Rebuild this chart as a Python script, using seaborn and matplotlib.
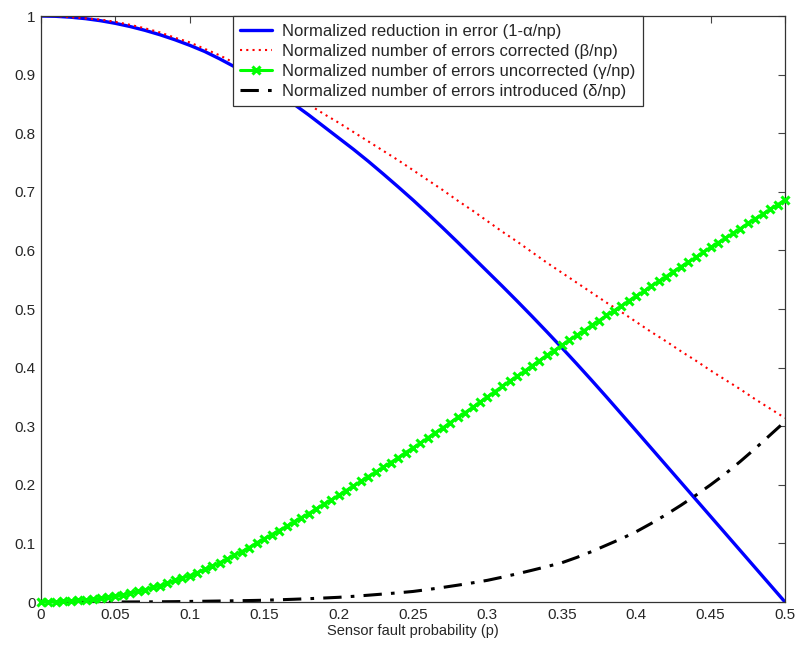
import numpy as np
import pandas as pd
import seaborn as sns
from matplotlib import pyplot as plt

# sensor fault probability, 0.01 steps for the plain lines
p_line = [round(0.01 * i, 2) for i in range(51)]

reduction = [1.000, 0.9995, 0.998, 0.9955, 0.992, 0.9875, 0.982, 0.9755, 0.968, 0.9595,
             0.950, 0.9395, 0.927, 0.9135, 0.899, 0.8835, 0.867, 0.8495, 0.831, 0.8115,
             0.792, 0.7725, 0.752, 0.7305, 0.7085, 0.686, 0.6625, 0.6385, 0.614, 0.589,
             0.564, 0.539, 0.5135, 0.4875, 0.461, 0.434, 0.4065, 0.3785, 0.350, 0.321,
             0.292, 0.2628, 0.2336, 0.2044, 0.1752, 0.146, 0.1168, 0.0876, 0.0584, 0.0292,
             0.000]

corrected = [1.000, 1.000, 0.998, 0.996, 0.994, 0.990, 0.985, 0.979, 0.972, 0.963,
             0.955, 0.944, 0.933, 0.920, 0.907, 0.892, 0.878, 0.863, 0.849, 0.833,
             0.818, 0.802, 0.786, 0.770, 0.754, 0.737, 0.720, 0.703, 0.685, 0.668,
             0.650, 0.632, 0.615, 0.597, 0.579, 0.562, 0.545, 0.528, 0.511, 0.495,
             0.478, 0.461, 0.445, 0.428, 0.412, 0.395, 0.379, 0.363, 0.346, 0.330,
             0.314]

introduced = [0.000, 0.000, 0.000, 0.000, 0.000, 0.0001, 0.0001, 0.0002, 0.0004, 0.0006,
              0.0010, 0.0013, 0.0017, 0.0021, 0.0025, 0.0030, 0.0038, 0.0047, 0.0057, 0.0068,
              0.0080, 0.0097, 0.0116, 0.0136, 0.0157, 0.0180, 0.0213, 0.0249, 0.0287, 0.0327,
              0.0370, 0.0424, 0.0481, 0.0542, 0.0605, 0.0670, 0.076, 0.086, 0.097, 0.108,
              0.120, 0.134, 0.149, 0.165, 0.182, 0.200, 0.219, 0.240, 0.262, 0.285,
              0.308]

# green curve is drawn with a marker every 0.005
p_mark = [round(0.005 * i, 3) for i in range(101)]

uncorrected = [0.000, 0.000, 0.000, 0.001, 0.002, 0.003, 0.004, 0.005, 0.006, 0.008,
               0.010, 0.012, 0.015, 0.018, 0.021, 0.025, 0.028, 0.032, 0.037, 0.041,
               0.045, 0.050, 0.056, 0.061, 0.067, 0.073, 0.080, 0.086, 0.093, 0.101,
               0.108, 0.115, 0.122, 0.129, 0.137, 0.144, 0.151, 0.159, 0.167, 0.174,
               0.182, 0.190, 0.198, 0.206, 0.214, 0.222, 0.230, 0.238, 0.246, 0.255,
               0.263, 0.271, 0.280, 0.289, 0.297, 0.306, 0.315, 0.323, 0.332, 0.341,
               0.350, 0.359, 0.368, 0.377, 0.385, 0.394, 0.403, 0.412, 0.421, 0.429,
               0.438, 0.447, 0.455, 0.463, 0.472, 0.480, 0.489, 0.497, 0.505, 0.514,
               0.522, 0.530, 0.539, 0.547, 0.555, 0.564, 0.572, 0.580, 0.588, 0.597,
               0.605, 0.613, 0.621, 0.629, 0.637, 0.646, 0.654, 0.662, 0.670, 0.678,
               0.686]

labels = ["Normalized reduction in error (1-\u03b1/np)",
          "Normalized number of errors corrected (\u03b2/np)",
          "Normalized number of errors uncorrected (\u03b3/np)",
          "Normalized number of errors introduced (\u03b4/np)"]

x_ticks = [0, 0.05, 0.1, 0.15, 0.2, 0.25, 0.3, 0.35, 0.4, 0.45, 0.5]
x_tick_labels = ["0", "0.05", "0.1", "0.15", "0.2", "0.25", "0.3", "0.35", "0.4", "0.45", "0.5"]
y_ticks = [0, 0.1, 0.2, 0.3, 0.4, 0.5, 0.6, 0.7, 0.8, 0.9, 1]
y_tick_labels = ["0", "0.1", "0.2", "0.3", "0.4", "0.5", "0.6", "0.7", "0.8", "0.9", "1"]

lines = pd.DataFrame({"p": p_line, "reduction": reduction,
                      "corrected": corrected, "introduced": introduced})
marks = pd.DataFrame({"p": p_mark, "uncorrected": uncorrected})

sns.set_style("white")
plt.rcParams['font.family'] = ['Liberation Sans', 'DejaVu Sans']
plt.rcParams['xtick.direction'] = 'in'
plt.rcParams['ytick.direction'] = 'in'

fig = plt.figure(figsize=(7.99, 6.54), dpi=100)
ax = fig.add_axes([0.0513, 0.0795, 0.9312, 0.896])

sns.lineplot(data=lines, x="p", y="reduction", ax=ax, color="#0000ff",
             linewidth=2.4, label=labels[0])
sns.lineplot(data=lines, x="p", y="corrected", ax=ax, color="#ff0000",
             linewidth=1.5, linestyle=(0, (1, 2)), label=labels[1])
sns.lineplot(data=marks, x="p", y="uncorrected", ax=ax, color="#00ff00",
             label=labels[2])
green = ax.lines[-1]
green.set_linestyle("-")
green.set_linewidth(2.2)
green.set_marker("x")
green.set_markersize(6)
green.set_markeredgewidth(2.2)
green.set_markeredgecolor("#00ff00")
green.set_clip_on(False)
green.set_zorder(3)
sns.lineplot(data=lines, x="p", y="introduced", ax=ax, color="black",
             linewidth=2.2, linestyle=(0, (6, 3, 1.2, 3)), label=labels[3])

ax.set_xlim(0, 0.5)
ax.set_ylim(0, 1)
ax.set_xticks(x_ticks)
ax.set_xticklabels(x_tick_labels)
ax.set_yticks(y_ticks)
ax.set_yticklabels(y_tick_labels)
ax.tick_params(axis="both", labelsize=11, length=5, width=0.8, color="#444444",
               top=True, right=True, pad=4)
for side in ["left", "right", "top", "bottom"]:
    ax.spines[side].set_visible(True)
    ax.spines[side].set_color("#333333")
    ax.spines[side].set_linewidth(0.9)

ax.set_xlabel("Sensor fault probability (p)", fontsize=10.5, labelpad=2)
ax.set_ylabel("")

leg = ax.legend(loc="upper left", bbox_to_anchor=(0.258, 1.0), fontsize=12,
                frameon=True, fancybox=False, framealpha=1, edgecolor="#333333",
                borderaxespad=0, handlelength=1.9, handletextpad=0.6,
                labelspacing=0.3, borderpad=0.45, numpoints=1)
leg.get_frame().set_linewidth(0.9)

fig.savefig("out.png", dpi=100, facecolor="white")
